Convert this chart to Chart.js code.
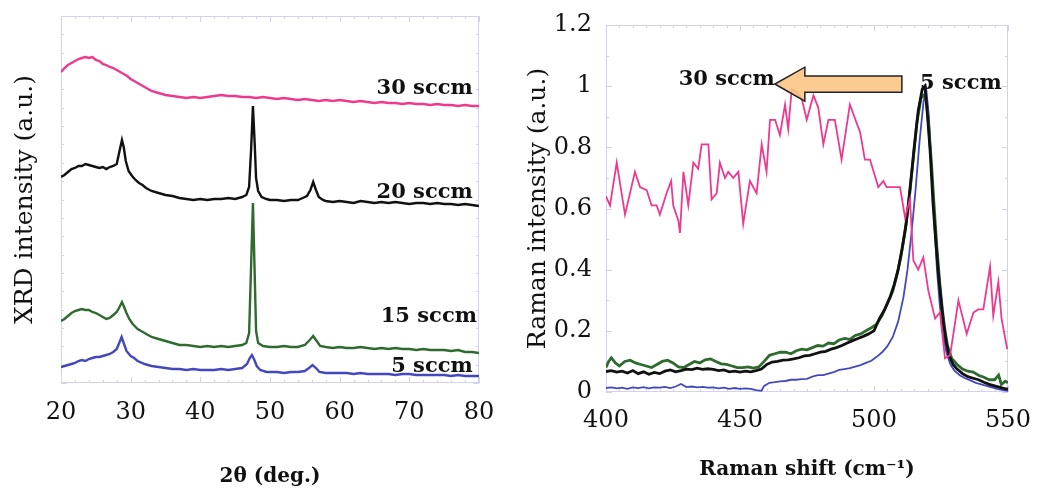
<!DOCTYPE html>
<html>
<head>
<meta charset="utf-8">
<script src="https://cdn.jsdelivr.net/npm/chart.js@4.4.0/dist/chart.umd.min.js"></script>
<style>
  html, body { margin: 0; padding: 0; background: #fff; }
  #xrd { position: absolute; left: 0; top: 0; }
  #raman { position: absolute; left: 520px; top: 0; }
</style>
</head>
<body>
<canvas id="xrd" width="520" height="495"></canvas>
<canvas id="raman" width="519" height="495"></canvas>
<script>
// ===============================================================================
// Data: XRD (2theta in deg, intensity in arbitrary offset units)
// ===============================================================================
const xrd30 = [[20,311],[20.5,315],[21,318],[21.5,320],[22,322],[22.5,324],[23,325],[23.5,326],[24,325],[24.5,326],
  [25,323],[25.5,322],[26,319],[26.5,318],[27,316],[27.5,315],[28,313],[28.5,311],[29,309],[29.5,307],[30,304],
  [31,300],[32,296],[33,292],[34,290],[35,288],[36,287],[37,286],[38,285],[39,286],[40,285],[41,286],[42,287],
  [43,288],[44,287],[45,287],[46,286],[47,286],[48,285],[49,286],[50,285],[51,284],[52,285],[53,284],[54,283],
  [55,284],[56,283],[57,282],[58,283],[59,282],[60,283],[61,282],[62,281],[63,282],[64,281],[65,280],[66,281],
  [67,280],[68,280],[69,279],[70,280],[71,279],[72,279],[73,278],[74,279],[75,278],[76,278],[77,277],[78,278],
  [79,277],[80,277]];
const xrd20 = [[20,206],[20.5,208],[21,211],[21.5,214],[22,215],[22.5,217],[23,217],[23.5,219],[24,218],[24.5,217],
  [25,216],[25.5,215],[26,216],[26.5,214],[27,216],[27.5,217],[28,219],[28.4,232],[28.75,243],[29,236],[29.3,222],
  [29.7,212],[30.2,207],[30.7,203],[31.2,200],[31.7,198],[32.2,195],[33,192],[34,190],[35,188],[36,187],[37,185],
  [38,184],[39,183],[40,184],[41,183],[42,184],[43,184],[44,185],[45,184],[46,186],[46.6,188],[47,196],[47.3,235],
  [47.55,277],[47.8,240],[48,205],[48.3,192],[48.8,186],[49.5,184],[50,183],[51,183],[52,182],[53,183],[54,183],
  [54.7,185],[55.3,187],[55.8,193],[56.2,201],[56.6,193],[57,186],[57.6,183],[58,182],[59,181],[60,182],[61,181],
  [62,180],[63,182],[64,181],[65,180],[66,181],[67,180],[68,181],[69,180],[70,179],[71,180],[72,180],[73,179],
  [74,180],[75,179],[76,179],[77,178],[78,179],[79,178],[80,177]];
const xrd15 = [[20,62],[20.5,64],[21,67],[21.5,70],[22,72],[22.5,73],[23,74],[23.5,73],[24,73],[24.5,71],[25,70],
  [25.5,68],[26,66],[26.5,64],[27,65],[27.5,68],[28,71],[28.4,76],[28.75,81],[29,77],[29.4,70],[29.8,64],[30.3,59],
  [31,54],[31.5,52],[32,50],[33,46],[34,44],[35,42],[36,40],[37,38],[38,38],[39,37],[40,36],[41,37],[42,36],[43,37],
  [44,36],[45,37],[46,38],[46.6,40],[47,50],[47.3,120],[47.55,180],[47.8,110],[48,52],[48.3,40],[49,37],[50,36],
  [51,36],[52,37],[53,36],[54,36],[55,38],[55.7,43],[56.2,47],[56.7,42],[57.2,37],[58,36],[59,35],[60,36],[61,35],
  [62,35],[63,36],[64,35],[65,34],[66,35],[67,34],[68,35],[69,34],[70,34],[71,33],[72,34],[73,33],[74,33],[75,33],
  [76,32],[77,33],[78,31],[79,31],[80,30]];
const xrd5 = [[20,16],[20.5,17],[21,18],[21.5,19],[22,20],[22.5,22],[23,23],[23.5,22],[24,24],[24.5,25],[25,26],
  [25.5,26],[26,27],[26.5,28],[27,29],[27.5,31],[28,34],[28.35,40],[28.7,46],[29,40],[29.4,32],[30,27],[30.5,25],
  [31,22],[32,19],[33,17],[34,16],[35,15],[36,14],[37,14],[38,13],[39,14],[40,13],[41,13],[42,13],[43,14],[44,13],
  [45,14],[46,15],[46.7,19],[47.1,25],[47.4,28],[47.7,24],[48.1,17],[48.6,13],[49.5,11],[50,11],[51,11],[52,10],
  [53,11],[54,11],[55,12],[55.6,15],[56.1,18],[56.6,15],[57.1,11],[58,10],[59,10],[60,10],[61,10],[62,9],[63,10],
  [64,9],[65,9],[66,9],[67,9],[68,8],[69,9],[70,9],[71,8],[72,8],[73,8],[74,8],[75,8],[76,7],[77,8],[78,7],[79,7],
  [80,7]];
// XRD curve labels: [text, 2theta of right edge, intensity of centre]
const xrdLabels = [['30 sccm', 79.1, 294], ['20 sccm', 79.1, 190], ['15 sccm', 79.7, 66], ['5 sccm', 79.1, 16]];

// ===============================================================================
// Data: Raman (shift in cm-1, normalised intensity)
// ===============================================================================
const raman30 = [[400,0.64],[401.5,0.61],[404,0.75],[407.1,0.58],[410.8,0.72],[412.7,0.67],[415.2,0.66],[417,0.61],
  [418.9,0.61],[420.1,0.58],[422.6,0.65],[424.3,0.69],[425.1,0.61],[427,0.56],[427.6,0.52],[428.9,0.72],[430.7,0.61],
  [432.6,0.75],[434.4,0.73],[435.7,0.81],[438.2,0.81],[439.4,0.63],[441.3,0.65],[442.5,0.75],[444.4,0.70],[445.6,0.72],
  [447.5,0.70],[449.4,0.72],[451.2,0.55],[453.7,0.69],[456.2,0.65],[458.1,0.81],[459.9,0.72],[461.2,0.89],[463.1,0.89],
  [464.9,0.84],[466.8,0.94],[468,0.86],[469.3,0.99],[471.1,0.98],[473,0.96],[474.9,0.89],[477.4,0.97],[479.2,0.93],
  [481.1,0.81],[483,0.89],[485.4,0.89],[487.9,0.76],[491,0.94],[493.5,0.88],[494.8,0.85],[496.6,0.76],[498.5,0.76],
  [501.6,0.67],[503.5,0.69],[504.7,0.67],[509.7,0.67],[511.6,0.57],[513.4,0.63],[514.7,0.43],[516.5,0.40],[518.4,0.44],
  [520.3,0.33],[522.8,0.24],[524.6,0.26],[526.5,0.11],[528.4,0.12],[531.5,0.30],[534.6,0.19],[537.1,0.26],[538.9,0.27],
  [540.8,0.27],[543.3,0.41],[544.5,0.25],[546.4,0.36],[547.6,0.24],[549.7,0.14]];
const raman20 = [[400,0.067],[402,0.07],[404,0.065],[406,0.068],[408,0.062],[410,0.07],[412,0.06],[414,0.066],
  [416,0.058],[418,0.064],[420,0.06],[422,0.068],[424,0.072],[426,0.066],[428,0.07],[430,0.075],[432,0.073],
  [434,0.078],[436,0.074],[438,0.076],[440,0.074],[442,0.07],[444,0.072],[446,0.066],[448,0.068],[450,0.065],
  [452,0.068],[454,0.066],[456,0.07],[458,0.075],[460,0.09],[462,0.098],[464,0.1],[466,0.104],[468,0.105],[470,0.108],
  [472,0.112],[474,0.118],[476,0.12],[478,0.125],[480,0.13],[482,0.133],[484,0.14],[486,0.145],[488,0.152],[490,0.16],
  [492,0.168],[494,0.175],[496,0.182],[498,0.19],[500,0.2],[502,0.24],[504,0.27],[506,0.31],[507.5,0.35],[509,0.4],
  [510.5,0.47],[512,0.55],[513.5,0.67],[515,0.8],[516.5,0.92],[518,0.99],[519,1.0],[520,0.9],[521,0.78],[522,0.62],
  [523,0.5],[524,0.39],[525,0.3],[526,0.22],[527,0.16],[528,0.12],[529.5,0.09],[531,0.075],[533,0.06],[535,0.05],
  [537,0.045],[539,0.04],[541,0.032],[543,0.025],[545,0.02],[547,0.015],[549,0.01],[550,0.01]];
const raman15 = [[400,0.08],[401,0.1],[402,0.112],[403.5,0.095],[405,0.085],[407,0.1],[409,0.104],[411,0.095],
  [413,0.09],[415,0.085],[417,0.08],[419,0.09],[421,0.1],[423,0.104],[425,0.095],[427,0.082],[429,0.08],[431,0.09],
  [433,0.1],[435,0.095],[437,0.105],[439,0.108],[441,0.1],[443,0.092],[445,0.09],[447,0.085],[449,0.08],[451,0.08],
  [453,0.082],[455,0.078],[457,0.082],[459,0.1],[461,0.12],[463,0.125],[465,0.13],[467,0.13],[469,0.125],[471,0.135],
  [473,0.14],[475,0.138],[477,0.145],[479,0.152],[481,0.15],[483,0.16],[485,0.158],[487,0.17],[489,0.175],[491,0.172],
  [493,0.185],[495,0.19],[497,0.2],[499,0.21],[501,0.222],[503,0.25],[505,0.29],[507,0.33],[508.5,0.38],[510,0.44],
  [511.5,0.52],[513,0.62],[514.5,0.75],[516,0.88],[517.5,0.96],[518.5,0.97],[519.5,0.96],[520.5,0.86],[521.5,0.74],
  [522.5,0.6],[523.5,0.47],[524.5,0.36],[525.5,0.27],[526.5,0.2],[527.5,0.15],[529,0.11],[531,0.09],[533,0.075],
  [535,0.068],[537,0.065],[539,0.055],[541,0.048],[543,0.04],[545,0.04],[546.5,0.055],[547.5,0.025],[549,0.035],[550,0.03]];
const raman5 = [[400,0.013],[402,0.015],[404,0.012],[406,0.014],[408,0.01],[410,0.015],[412,0.013],[414,0.016],
  [416,0.012],[418,0.015],[420,0.014],[422,0.017],[424,0.013],[426,0.018],[428,0.026],[430,0.016],[432,0.018],
  [434,0.015],[436,0.017],[438,0.014],[440,0.015],[442,0.012],[444,0.014],[446,0.01],[448,0.013],[450,0.01],
  [452,0.012],[454,0.01],[456,0.006],[458,0.004],[459,0.02],[461,0.03],[463,0.032],[465,0.035],[467,0.036],[469,0.04],
  [471,0.04],[473,0.042],[475,0.043],[477,0.05],[479,0.055],[481,0.055],[483,0.06],[485,0.065],[487,0.072],[489,0.075],
  [491,0.078],[493,0.083],[495,0.088],[497,0.095],[499,0.102],[501,0.115],[503,0.13],[505,0.15],[507,0.18],[509,0.23],
  [511,0.31],[512.5,0.4],[514,0.52],[515.5,0.66],[517,0.82],[518.5,0.95],[519.5,0.99],[520.5,0.9],[521.5,0.72],
  [522.5,0.55],[523.5,0.4],[524.5,0.29],[525.5,0.2],[527,0.13],[528.5,0.09],[530,0.07],[532,0.055],[534,0.045],
  [536,0.038],[538,0.03],[540,0.025],[542,0.02],[544,0.015],[546,0.01],[548,0.006],[550,0.004]];
// Raman labels: [text, shift, intensity, align]
const ramanLabels = [['30 sccm', 463, 1.023, 'right'], ['5 sccm', 517.2, 1.01, 'left']];
// Arrow (30 sccm <- 5 sccm): shift of tip / head base / tail, intensity of head and body edges
const arrowShift = [463, 474.2, 510.4];
const arrowLevel = [0.951, 0.98, 1.007, 1.033, 1.062];

// Colours
const pink = '#ec3a8f', black = '#111111', green = '#2f6a2f', blue = '#4349bd',
      frameColor = '#d2d2ec', textColor = '#111';

Chart.defaults.font.family = "'DejaVu Serif', serif";
Chart.defaults.color = textColor;

// Frame with inward ticks on all four sides
const framePlugin = {
  id: 'frame',
  beforeDatasetsDraw(chart, args, o) {
    const {ctx, chartArea: a, scales: {x, y}} = chart;
    ctx.save();
    ctx.strokeStyle = frameColor;
    ctx.lineWidth = 1;
    ctx.strokeRect(a.left + 0.5, a.top + 0.5, a.width - 1, a.height - 1);
    ctx.beginPath();
    for (let v = x.min; v <= x.max + 1e-9; v += o.xMinor) {
      const px = Math.round(x.getPixelForValue(v)) + 0.5;
      const len = Math.abs(v / o.xMajor - Math.round(v / o.xMajor)) < 1e-6 ? 6 : 3;
      ctx.moveTo(px, a.bottom); ctx.lineTo(px, a.bottom - len);
      ctx.moveTo(px, a.top); ctx.lineTo(px, a.top + len);
    }
    for (let v = y.min; v <= y.max + 1e-9; v += o.yMinor) {
      const py = Math.round(y.getPixelForValue(v)) + 0.5;
      const len = Math.abs(v / o.yMajor - Math.round(v / o.yMajor)) < 1e-6 ? 6 : 3;
      ctx.moveTo(a.left, py); ctx.lineTo(a.left + len, py);
      ctx.moveTo(a.right, py); ctx.lineTo(a.right - len, py);
    }
    ctx.stroke();
    ctx.restore();
  }
};

// Curve labels and arrow
const notePlugin = {
  id: 'notes',
  afterDatasetsDraw(chart, args, o) {
    const {ctx, scales: {x, y}} = chart;
    ctx.save();
    if (o.arrow) {
      const [tip, base, tail] = o.arrow.shift.map(v => x.getPixelForValue(v));
      const [h0, b0, mid, b1, h1] = o.arrow.level.map(v => y.getPixelForValue(v));
      ctx.beginPath();
      ctx.moveTo(tip, mid);
      ctx.lineTo(base, h0); ctx.lineTo(base, b0); ctx.lineTo(tail, b0);
      ctx.lineTo(tail, b1); ctx.lineTo(base, b1); ctx.lineTo(base, h1);
      ctx.closePath();
      ctx.fillStyle = 'rgba(251, 196, 130, 0.88)';
      ctx.fill();
      ctx.strokeStyle = '#222';
      ctx.lineWidth = 1.5;
      ctx.stroke();
    }
    ctx.font = "bold 21px 'DejaVu Serif', serif";
    ctx.fillStyle = textColor;
    ctx.textBaseline = 'middle';
    o.labels.forEach(([t, lx, ly, align]) => {
      ctx.textAlign = align || 'right';
      ctx.fillText(t, x.getPixelForValue(lx), y.getPixelForValue(ly));
    });
    ctx.restore();
  }
};

function line(data, color, width) {
  return { data: data, borderColor: color, borderWidth: width, pointRadius: 0, tension: 0, fill: false };
}

// ===============================================================================
// Left: XRD
// ===============================================================================
new Chart(document.getElementById('xrd'), {
  type: 'line',
  data: { datasets: [
    line(xrd30, pink, 2.4), line(xrd20, black, 2.4), line(xrd15, green, 2.4), line(xrd5, blue, 2.4)
  ] },
  options: {
    responsive: false,
    animation: false,
    events: [],
    layout: { padding: { top: 16, right: 41, left: 0, bottom: 0 } },
    plugins: {
      legend: { display: false },
      tooltip: { enabled: false },
      frame: { xMajor: 10, xMinor: 2, yMajor: 1000, yMinor: 18.35 },
      notes: { labels: xrdLabels }
    },
    scales: {
      x: {
        type: 'linear', min: 20, max: 80,
        grid: { display: false }, border: { display: false },
        ticks: { stepSize: 10, padding: 7, font: { size: 24 } },
        title: { display: true, text: '2θ (deg.)', font: { size: 20, weight: 'bold' }, padding: { top: 0, bottom: 6 } },
        afterFit: s => { s.height = 112; }
      },
      y: {
        type: 'linear', min: 0, max: 367,
        grid: { display: false }, border: { display: false },
        ticks: { display: false },
        title: { display: true, text: 'XRD intensity (a.u.)', font: { size: 25 }, padding: { top: 10, bottom: 0 } },
        afterFit: s => { s.width = 61; }
      }
    }
  },
  plugins: [framePlugin, notePlugin]
});

// ===============================================================================
// Right: Raman
// ===============================================================================
new Chart(document.getElementById('raman'), {
  type: 'line',
  data: { datasets: [
    line(raman30, pink, 1.8), line(raman20, black, 2.8), line(raman15, green, 2.8), line(raman5, blue, 1.8)
  ] },
  options: {
    responsive: false,
    animation: false,
    events: [],
    layout: { padding: { top: 25, right: 31, left: 0, bottom: 0 } },
    plugins: {
      legend: { display: false },
      tooltip: { enabled: false },
      frame: { xMajor: 50, xMinor: 5, yMajor: 0.2, yMinor: 0.1 },
      notes: { labels: ramanLabels, arrow: { shift: arrowShift, level: arrowLevel } }
    },
    scales: {
      x: {
        type: 'linear', min: 400, max: 550,
        grid: { display: false }, border: { display: false },
        ticks: { stepSize: 50, padding: 6, font: { size: 24 } },
        title: { display: true, text: 'Raman shift (cm⁻¹)', font: { size: 20, weight: 'bold' }, padding: { top: 0, bottom: 13 } },
        afterFit: s => { s.height = 103; }
      },
      y: {
        type: 'linear', min: 0, max: 1.2,
        grid: { display: false }, border: { display: false },
        ticks: { stepSize: 0.2, padding: 6, font: { size: 24 }, callback: v => String(Number(v.toFixed(1))) },
        title: { display: true, text: 'Raman intensity (a.u.)', font: { size: 25 }, padding: { top: 3, bottom: 0 } },
        afterFit: s => { s.width = 86; }
      }
    }
  },
  plugins: [framePlugin, notePlugin]
});
</script>
</body>
</html>
